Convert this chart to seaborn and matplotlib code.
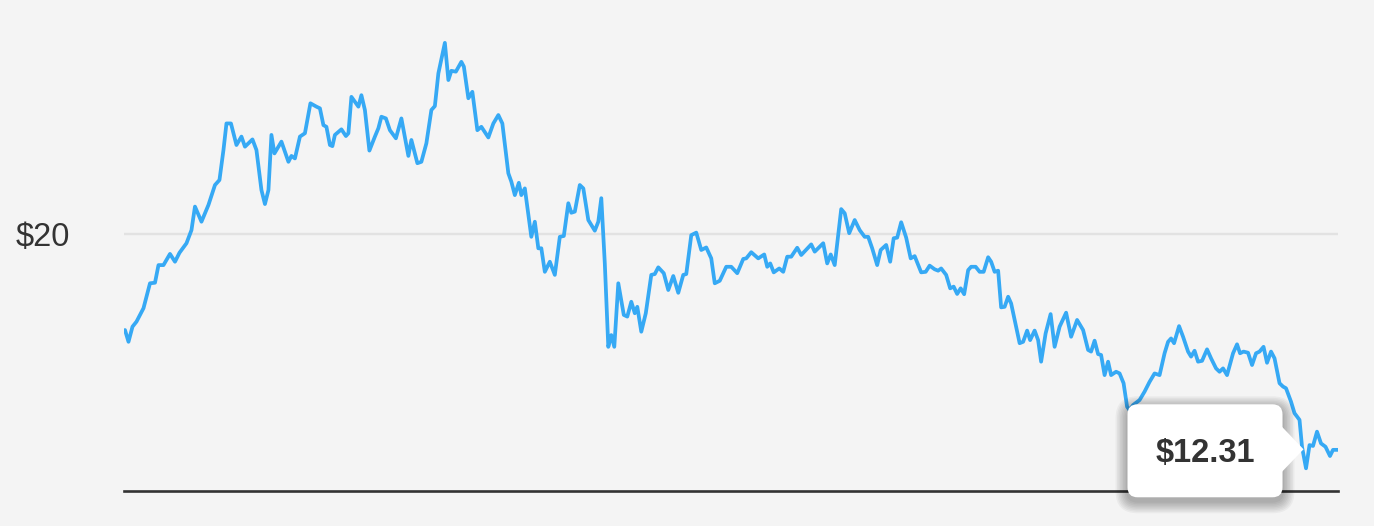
"""
Stock price line with a single $20 guide line and a hover tooltip.
"""

import matplotlib
matplotlib.use("Agg")
import matplotlib.pyplot as plt
from matplotlib.patches import FancyBboxPatch, Polygon
from matplotlib.transforms import IdentityTransform
import pandas as pd
import seaborn as sns

# Data (trading days since start, closing price in $)
days = [
    0.2, 0.9, 1.7, 2.5, 3.9, 5.2, 6.2, 6.9, 7.9, 9.2,
    10.2, 11.1, 12.5, 13.5, 14.2, 15.5, 16.9, 18.2, 19.1, 19.9,
    20.5, 21.4, 22.5, 23.5, 24.2, 25.7, 26.5, 27.5, 28.2, 28.9,
    29.5, 30.1, 31.5, 32.9, 33.5, 34.2, 35.2, 36.2, 37.3, 38.5,
    39.2, 39.9, 40.5, 41.2, 41.7, 42.2, 43.5, 44.4, 44.9, 45.5,
    46.9, 47.5, 48.2, 49.1, 50.2, 50.9, 51.5, 52.4, 53.2, 54.4,
    55.5, 56.9, 57.5, 58.7, 59.5, 60.5, 61.5, 62.2, 62.9, 64.2,
    64.9, 65.5, 66.4, 67.5, 68.0, 68.9, 69.7, 70.7, 71.5, 72.9,
    73.9, 74.9, 75.7, 76.9, 77.5, 78.2, 79.0, 79.5, 80.2,
    81.5, 82.2, 82.9, 83.5, 84.2, 85.2, 86.2, 87.2, 88.0, 88.9,
    89.5, 90.2, 91.2, 91.9, 92.9, 94.2, 94.9, 95.5, 96.2, 96.9,
    97.5, 98.1, 98.9, 100.0, 100.7, 101.5, 102.2, 102.7, 103.5, 104.4,
    105.5, 106.2, 106.9, 108.0, 108.9, 109.9, 110.9, 111.9, 112.5, 113.5,
    114.5, 115.5, 116.5, 117.5, 118.2, 119.2,
    120.5, 121.5, 122.7, 123.9, 124.5, 125.5, 126.9, 128.1, 128.7, 129.3,
    130.0, 131.1, 131.9, 132.7, 133.5, 134.7, 135.5, 137.5, 138.2, 139.9,
    140.7, 141.4, 142.2, 143.5, 144.2, 145.1, 146.2, 147.2, 148.2, 148.9,
    149.7, 150.7, 151.4, 152.5, 153.3, 154.0, 154.7, 155.5, 156.5, 157.4,
    158.2, 159.5, 160.4, 161.2,
    162.2, 162.9, 163.5, 164.5, 165.3, 166.0, 166.7, 167.4, 168.1, 168.9,
    169.5, 170.4, 171.2, 172.0, 172.9, 173.5, 174.2, 174.9, 175.5, 176.2,
    176.9, 177.5, 179.2, 179.9, 180.7, 181.3, 182.2, 182.9, 183.5, 184.4,
    185.4, 186.2, 187.2, 188.5, 189.5, 190.7, 191.9, 192.9, 193.5, 194.2,
    194.9, 195.5, 196.2, 196.9, 197.5, 198.5, 199.2, 200.0, 200.7, 201.2, 201.9,
    203.2, 204.2, 205.2, 206.2, 207.2, 208.2, 208.9, 209.5, 210.1, 211.1,
    211.9, 212.9, 213.5, 214.2, 214.9, 215.7, 216.7, 217.5, 218.5, 219.2,
    219.9, 220.7, 221.9, 222.7, 223.3, 224.0, 224.9, 225.7, 226.5, 227.2,
    228.0, 228.7, 229.5, 230.2, 231.2, 231.9, 232.5, 233.5, 234.2, 235.2,
    235.7, 236.5, 237.2, 237.9, 238.7, 239.5, 240.4, 241.3, 241.9, 242.9,
]

prices = [
    16.57, 16.15, 16.69, 16.87, 17.35, 18.24, 18.26, 18.89, 18.89, 19.29,
    19.01, 19.33, 19.67, 20.14, 20.98, 20.44, 21.04, 21.75, 21.93, 23.00,
    23.95, 23.95, 23.18, 23.48, 23.12, 23.38, 23.00, 21.57, 21.07, 21.57,
    23.54, 22.88, 23.30, 22.58, 22.79, 22.70, 23.48, 23.60, 24.67, 24.55,
    24.49, 23.89, 23.83, 23.18, 23.14, 23.54, 23.74, 23.50, 23.60, 24.90,
    24.55, 24.96, 24.43, 22.98, 23.48, 23.78, 24.19, 24.13, 23.71, 23.42,
    24.13, 22.79, 23.36, 22.53, 22.58, 23.24, 24.43, 24.57, 25.74, 26.83,
    25.50, 25.83, 25.80, 26.15, 25.98, 24.85, 25.08, 23.71, 23.83, 23.45,
    23.95, 24.25, 23.95, 22.17, 21.87, 21.39, 21.83, 21.39, 21.63,
    19.90, 20.44, 19.49, 19.49, 18.65, 19.01, 18.54, 19.90, 19.93, 21.10,
    20.76, 20.80, 21.75, 21.63, 20.50, 20.12, 20.44, 21.28, 18.95, 15.97,
    16.39, 15.97, 18.24, 17.11, 17.05, 17.58, 17.17, 17.40, 16.51, 17.17,
    18.54, 18.57, 18.81, 18.60, 18.00, 18.50, 17.90, 18.54, 18.57, 19.96,
    20.05, 19.43, 19.52, 19.13, 18.24, 18.33,
    18.83, 18.83, 18.60, 19.11, 19.13, 19.35, 19.13, 19.27, 18.83, 18.95,
    18.63, 18.77, 18.65, 19.19, 19.19, 19.51, 19.25, 19.63, 19.37, 19.67,
    18.95, 19.27, 18.89, 20.89, 20.74, 20.03, 20.50, 20.14, 19.90, 19.90,
    19.49, 18.89, 19.43, 19.61, 19.01, 19.85, 19.87, 20.42, 19.87, 19.13,
    19.21, 18.63, 18.65, 18.87,
    18.74, 18.69, 18.77, 18.54, 18.06, 18.12, 17.86, 18.06, 17.85, 18.71,
    18.83, 18.83, 18.65, 18.65, 19.17, 19.01, 18.65, 18.69, 17.38, 17.40,
    17.76, 17.52, 16.10, 16.15, 16.55, 16.21, 16.55, 16.21, 15.44, 16.45,
    17.14, 15.97, 16.69, 17.19, 16.33, 16.93, 16.57, 15.86, 15.80, 16.19,
    15.71, 15.68, 14.96, 15.44, 14.96, 15.08, 15.02, 14.67, 13.83, 13.71, 13.89,
    14.07, 14.37, 14.72, 15.02, 14.96, 15.74, 16.15, 16.27, 16.10, 16.71,
    16.33, 15.80, 15.62, 15.83, 15.44, 15.47, 15.88, 15.56, 15.20, 15.08,
    15.20, 14.96, 15.74, 16.06, 15.74, 15.80, 15.76, 15.32, 15.74, 15.80,
    15.97, 15.40, 15.80, 15.56, 14.67, 14.55, 14.49, 14.01, 13.60, 13.36,
    12.40, 11.63, 12.46, 12.43, 12.94, 12.52, 12.40, 12.07, 12.29, 12.29,
]

grid_values = [20]
grid_labels = ["$20"]

hover_day = 236.0
hover_price = 12.31
hover_label = "$12.31"

assert len(days) == len(prices)

# Style
BG = "#f4f4f4"
LINE_COLOR = "#36a9f4"
TEXT_COLOR = "#333333"

sns.set_theme(style="white")
plt.rcParams["font.family"] = ["Liberation Sans", "DejaVu Sans"]

fig = plt.figure(figsize=(13.74, 5.26), dpi=100, facecolor=BG)
ax = fig.add_axes([124 / 1374, 35 / 526, 1214 / 1374, 491 / 526])
ax.set_facecolor(BG)

df = pd.DataFrame({"day": days, "price": prices})
sns.lineplot(
    data=df, x="day", y="price", ax=ax,
    color=LINE_COLOR, linewidth=2.7, zorder=3,
)
for line in ax.lines:
    line.set_solid_joinstyle("round")
    line.set_solid_capstyle("round")

for v in grid_values:
    ax.axhline(v, color="#e2e2e2", linewidth=1.7, zorder=1)

ax.set_xlim(0, 242.9)
ax.set_ylim(10.82, 28.36)
ax.set_xticks([])
ax.set_yticks(grid_values)
ax.set_yticklabels(grid_labels, fontsize=23.5, color=TEXT_COLOR)
ax.tick_params(axis="y", length=0, pad=39)
ax.set_xlabel("")
ax.set_ylabel("")

for side in ["top", "right", "left"]:
    ax.spines[side].set_visible(False)
ax.spines["bottom"].set_color("#333333")
ax.spines["bottom"].set_linewidth(1.9)
ax.spines["bottom"].set_zorder(2)

# Tooltip anchored on the hovered point (drawn in pixel units)
px, py = ax.transData.transform((hover_day, hover_price))
box_l, box_r = px - 176, px - 21
box_b, box_t = py - 48, py + 45
ident = IdentityTransform()

for i in range(8):
    grow = 1.5 * (i + 1)
    shadow = FancyBboxPatch(
        (box_l - grow, box_b - 4 - grow), (box_r - box_l) + 2 * grow, (box_t - box_b) + 2 * grow,
        boxstyle=f"round,pad=0,rounding_size={10 + grow}",
        transform=ident, facecolor="black", edgecolor="none",
        alpha=0.04, zorder=9, clip_on=False,
    )
    fig.patches.append(shadow)

box = FancyBboxPatch(
    (box_l, box_b), box_r - box_l, box_t - box_b,
    boxstyle="round,pad=0,rounding_size=10",
    transform=ident, facecolor="white", edgecolor="none",
    zorder=11, clip_on=False,
)
fig.patches.append(box)
pointer = Polygon(
    [(box_r - 1, py + 23), (px, py), (box_r - 1, py - 23)],
    closed=True, transform=ident, facecolor="white", edgecolor="none",
    zorder=11, clip_on=False,
)
fig.patches.append(pointer)

fig.text(
    (box_l + box_r) / 2, (box_b + box_t) / 2 - 3, hover_label,
    transform=ident, ha="center", va="center",
    fontsize=23.5, fontweight="bold", color=TEXT_COLOR, zorder=12,
)

fig.savefig("out.png", dpi=100, facecolor=BG)
plt.close(fig)
